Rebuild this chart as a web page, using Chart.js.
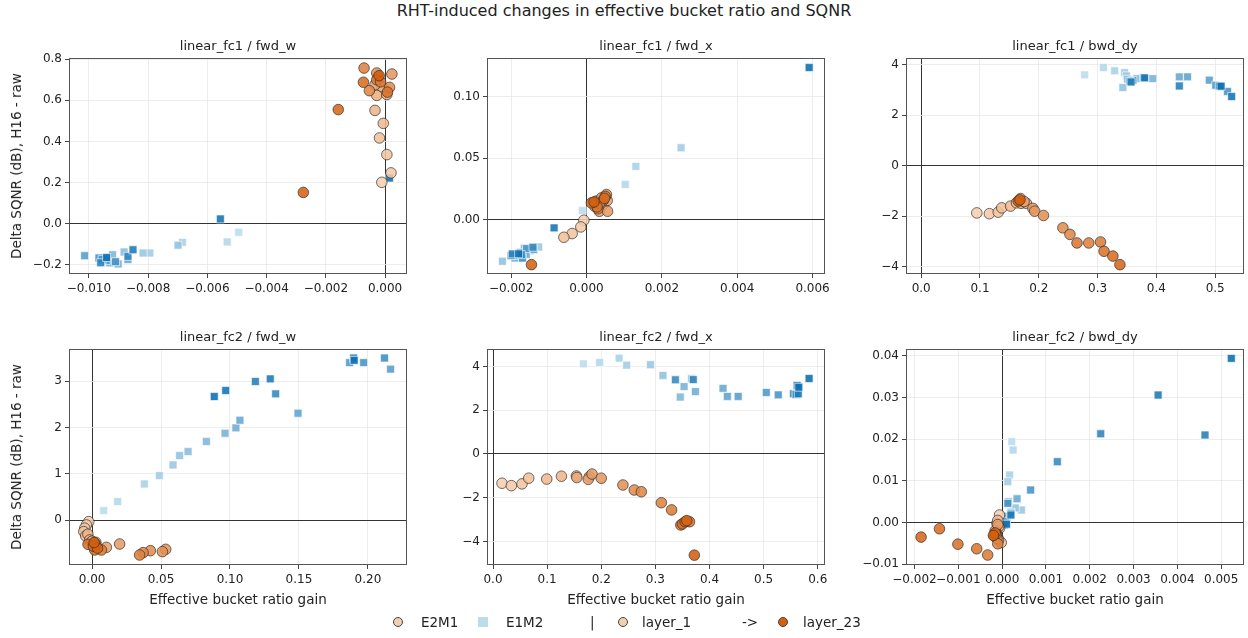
<!DOCTYPE html>
<html>
<head>
<meta charset="utf-8">
<script src="https://cdn.jsdelivr.net/npm/chart.js@4.4.0/dist/chart.umd.min.js"></script>
<style>
  body { margin: 0; width: 1248px; height: 638px; background: #fff; position: relative; overflow: hidden;
         font-family: "DejaVu Sans", sans-serif; color: #222; }
  canvas { position: absolute; }
  .txt { position: absolute; white-space: nowrap; transform: translate(-50%, -50%); }
  .ylab { transform: translate(-50%, -50%) rotate(-90deg); }
  #legend { position: absolute; left: 0; top: 613px; width: 1248px; height: 20px; font-size: 13.5px; }
  #legend span { position: absolute; top: 0; line-height: 18px; }
  .mk { width: 10px; height: 10px; top: 4px !important; box-sizing: border-box; }
</style>
</head>
<body>
<div class="txt" style="left:624px;top:10px;font-size:16px">RHT-induced changes in effective bucket ratio and SQNR</div>
<div id="panels"></div>
<div id="legend">
  <span class="mk" style="left:393px;border-radius:50%;background:#f3cfb0;border:1px solid #444"></span>
  <span style="left:421px">E2M1</span>
  <span class="mk" style="left:478px;background:#bcdcec"></span>
  <span style="left:506px">E1M2</span>
  <span style="left:590px">|</span>
  <span class="mk" style="left:618px;border-radius:50%;background:#f3cfb0;border:1px solid #444"></span>
  <span style="left:642px">layer_1</span>
  <span style="left:742px">-&gt;</span>
  <span class="mk" style="left:778px;border-radius:50%;background:#d45f0c;border:1px solid #444"></span>
  <span style="left:803px">layer_23</span>
</div>
<script>
// data, one array per panel and format, ordered layer_1 .. layer_23, each point [ratio gain, delta SQNR]
const fc1FwdW_E2M1 = [[-0.00011,0.201],[0.0002,0.247],[0.00006,0.336],[-0.00019,0.417],[-0.00006,0.488],[-0.00034,0.551],[-0.00028,0.624],[0.00006,0.628],[-0.00011,0.668],[-0.00034,0.676],[-0.00025,0.712],[0.00023,0.728],[-0.00028,0.733],[0.00015,0.663],[-0.00053,0.647],[-0.00071,0.757],[-0.00028,0.700],[-0.00015,0.690],[0.00008,0.640],[-0.00073,0.688],[-0.00158,0.555],[-0.00276,0.152],[-0.0002,0.720]];
const fc1FwdW_E1M2 = [[-0.00494,-0.042],[-0.00533,-0.089],[-0.00684,-0.091],[-0.00794,-0.143],[-0.00817,-0.143],[-0.00699,-0.105],[-0.00881,-0.138],[-0.0092,-0.151],[-0.00901,-0.196],[-0.0093,-0.191],[-0.00868,-0.175],[-0.0095,-0.17],[-0.01014,-0.156],[-0.00941,-0.18],[-0.00966,-0.167],[-0.0091,-0.185],[-0.00955,-0.175],[-0.00868,-0.159],[-0.0096,-0.19],[-0.00851,-0.127],[-0.00556,0.023],[0.00015,0.222],[-0.0094,-0.165]];

const fc1FwdX_E2M1 = [[-0.00007,-0.0003],[-0.00015,-0.0057],[-0.00038,-0.0111],[-0.0006,-0.0141],[0.00022,0.0111],[0.00034,0.012],[0.0004,0.0145],[0.00044,0.0125],[0.00055,0.0157],[0.00034,0.007],[0.00056,0.007],[0.00025,0.0152],[0.0004,0.0179],[0.00053,0.0206],[0.0003,0.009],[0.00045,0.016],[0.0005,0.019],[0.00035,0.0135],[0.00028,0.0105],[0.00013,0.0138],[0.00048,0.0175],[-0.00146,-0.0363],[0.0002,0.0145]];
const fc1FwdX_E1M2 = [[-0.00011,0.0076],[0.00103,0.0287],[0.00131,0.0434],[0.00251,0.0585],[-0.00127,-0.022],[-0.00223,-0.0336],[-0.0015,-0.025],[-0.00165,-0.023],[-0.0018,-0.03],[-0.0019,-0.031],[-0.0016,-0.028],[-0.00175,-0.0265],[-0.0014,-0.024],[-0.00185,-0.029],[-0.00159,-0.0233],[-0.0017,-0.031],[-0.002,-0.029],[-0.00142,-0.0222],[-0.00197,-0.0276],[-0.00173,-0.0282],[-0.00086,-0.0065],[0.00591,0.1236],[-0.0018,-0.0275]];

const fc1BwdDy_E2M1 = [[0.0946,-1.87],[0.116,-1.90],[0.131,-1.84],[0.137,-1.67],[0.152,-1.60],[0.162,-1.47],[0.169,-1.30],[0.170,-1.49],[0.179,-1.49],[0.175,-1.42],[0.190,-1.69],[0.193,-1.80],[0.208,-1.97],[0.241,-2.46],[0.253,-2.72],[0.285,-3.06],[0.305,-3.02],[0.265,-3.06],[0.311,-3.39],[0.326,-3.58],[0.338,-3.92],[0.165,-1.40],[0.168,-1.35]];
const fc1BwdDy_E1M2 = [[0.278,3.60],[0.310,3.89],[0.329,3.76],[0.346,3.69],[0.349,3.56],[0.343,3.10],[0.351,3.43],[0.367,3.45],[0.394,3.45],[0.378,3.49],[0.439,3.52],[0.453,3.52],[0.490,3.39],[0.501,3.19],[0.521,2.94],[0.360,3.38],[0.355,3.35],[0.507,3.16],[0.439,3.16],[0.357,3.32],[0.528,2.74],[0.380,3.48],[0.510,3.15]];

const fc2FwdW_E2M1 = [[-0.0024,-0.029],[-0.0041,-0.10],[-0.0053,-0.17],[-0.006,-0.245],[-0.0046,-0.338],[-0.003,-0.30],[-0.0017,-0.424],[0.0,-0.45],[0.0027,-0.475],[0.0104,-0.583],[0.020,-0.511],[0.0534,-0.626],[0.051,-0.676],[0.0423,-0.655],[0.037,-0.698],[0.0345,-0.748],[0.0068,-0.64],[0.0019,-0.64],[-0.0029,-0.518],[0.0027,-0.52],[0.001,-0.56],[0.004,-0.60],[0.0015,-0.48]];
const fc2FwdW_E1M2 = [[0.00845,0.209],[0.0186,0.403],[0.0379,0.784],[0.0488,0.964],[0.0587,1.194],[0.0635,1.396],[0.0696,1.482],[0.0829,1.698],[0.0964,1.878],[0.1043,1.993],[0.1072,2.158],[0.1493,2.309],[0.2164,3.26],[0.1867,3.40],[0.1969,3.40],[0.212,3.50],[0.1331,2.727],[0.1896,3.50],[0.1184,2.993],[0.1292,3.05],[0.0969,2.799],[0.0886,2.669],[0.190,3.45]];

const fc2FwdX_E2M1 = [[0.0166,-1.34],[0.0339,-1.45],[0.0536,-1.37],[0.066,-1.11],[0.0993,-1.15],[0.1264,-1.02],[0.154,-1.01],[0.155,-1.08],[0.178,-1.04],[0.176,-1.16],[0.183,-0.92],[0.200,-1.11],[0.240,-1.42],[0.261,-1.65],[0.274,-1.73],[0.311,-2.23],[0.330,-2.56],[0.347,-3.25],[0.363,-3.10],[0.350,-3.20],[0.355,-3.10],[0.358,-3.05],[0.372,-4.63]];
const fc2FwdX_E1M2 = [[0.167,4.12],[0.197,4.18],[0.233,4.38],[0.247,4.06],[0.291,4.08],[0.314,3.59],[0.367,3.44],[0.346,2.60],[0.353,3.08],[0.374,2.85],[0.425,3.0],[0.433,2.63],[0.453,2.63],[0.505,2.81],[0.527,2.70],[0.555,2.75],[0.337,3.39],[0.370,3.40],[0.560,2.72],[0.562,3.13],[0.564,2.75],[0.584,3.45],[0.565,3.05]];

const fc2BwdDy_E2M1 = [[-0.00006,0.0018],[-0.00012,-0.0002],[-0.00006,-0.0014],[-0.00002,-0.0048],[-0.0001,0.0005],[-0.00008,-0.001],[-0.00014,-0.0024],[-0.0001,-0.0035],[-0.00012,-0.003],[-0.00016,-0.002],[-0.0001,-0.0005],[-0.00008,-0.0042],[-0.00012,-0.0038],[-0.00018,-0.0032],[-0.00014,-0.0028],[-0.0001,-0.0051],[-0.00033,-0.0078],[-0.00058,-0.0063],[-0.00101,-0.0052],[-0.00143,-0.0015],[-0.00185,-0.0035],[-0.00016,-0.0025],[-0.0002,-0.0031]];
const fc2BwdDy_E1M2 = [[0.00022,0.0194],[0.00025,0.0174],[0.00017,0.0114],[0.00013,0.0098],[0.00044,0.003],[0.0003,0.0035],[0.00015,0.005],[0.0002,0.0025],[0.00005,0.0008],[0.00012,0.0015],[0.00034,0.0057],[0.0002,0.0022],[0.00008,0.0003],[0.00005,-0.0006],[0.00065,0.0078],[0.00013,0.0046],[0.00126,0.0146],[0.00225,0.0213],[0.00463,0.021],[0.00356,0.0306],[0.0002,0.0018],[0.00523,0.0394],[0.0001,-0.0004]];

// tick values
const ticksFc1FwdWX = [-0.010, -0.008, -0.006, -0.004, -0.002, 0.000];
const ticksFc1FwdWY = [-0.2, 0.0, 0.2, 0.4, 0.6, 0.8];
const ticksFc1FwdXX = [-0.002, 0.000, 0.002, 0.004, 0.006];
const ticksFc1FwdXY = [0.00, 0.05, 0.10];
const ticksFc1BwdDyX = [0.0, 0.1, 0.2, 0.3, 0.4, 0.5];
const ticksFc1BwdDyY = [-4, -2, 0, 2, 4];
const ticksFc2FwdWX = [0.00, 0.05, 0.10, 0.15, 0.20];
const ticksFc2FwdWY = [0, 1, 2, 3];
const ticksFc2FwdXX = [0.0, 0.1, 0.2, 0.3, 0.4, 0.5, 0.6];
const ticksFc2FwdXY = [-4, -2, 0, 2, 4];
const ticksFc2BwdDyX = [-0.002, -0.001, 0.000, 0.001, 0.002, 0.003, 0.004, 0.005];
const ticksFc2BwdDyY = [-0.01, 0.00, 0.01, 0.02, 0.03, 0.04];

const panels = [
  { title: 'linear_fc1 / fwd_w', e2m1: fc1FwdW_E2M1, e1m2: fc1FwdW_E1M2, xt: ticksFc1FwdWX, yt: ticksFc1FwdWY, xd: 3, yd: 1,
    x: [-0.01067, 0.00074], y: [-0.245, 0.805], L: 69, T: 58 },
  { title: 'linear_fc1 / fwd_x', e2m1: fc1FwdX_E2M1, e1m2: fc1FwdX_E1M2, xt: ticksFc1FwdXX, yt: ticksFc1FwdXY, xd: 3, yd: 2,
    x: [-0.00264, 0.00633], y: [-0.0439, 0.1312], L: 487, T: 58 },
  { title: 'linear_fc1 / bwd_dy', e2m1: fc1BwdDy_E2M1, e1m2: fc1BwdDy_E1M2, xt: ticksFc1BwdDyX, yt: ticksFc1BwdDyY, xd: 1, yd: 0,
    x: [-0.0258, 0.549], y: [-4.29, 4.26], L: 906, T: 58 },
  { title: 'linear_fc2 / fwd_w', e2m1: fc2FwdW_E2M1, e1m2: fc2FwdW_E1M2, xt: ticksFc2FwdWX, yt: ticksFc2FwdWY, xd: 2, yd: 0,
    x: [-0.0167, 0.2283], y: [-0.964, 3.69], L: 69, T: 349 },
  { title: 'linear_fc2 / fwd_x', e2m1: fc2FwdX_E2M1, e1m2: fc2FwdX_E1M2, xt: ticksFc2FwdXX, yt: ticksFc2FwdXY, xd: 1, yd: 0,
    x: [-0.0111, 0.6134], y: [-5.08, 4.79], L: 487, T: 349 },
  { title: 'linear_fc2 / bwd_dy', e2m1: fc2BwdDy_E2M1, e1m2: fc2BwdDy_E1M2, xt: ticksFc2BwdDyX, yt: ticksFc2BwdDyY, xd: 3, yd: 2,
    x: [-0.002194, 0.00552], y: [-0.0102, 0.0416], L: 906, T: 349 },
];

const W = 338, H = 216;          // frame size of each subplot
const AXW = 60, PADT = 10, PADR = 20, AXH = 30;

const orangeA = [246, 207, 175], orangeB = [212, 94, 12];
const blueA = [190, 221, 237], blueB = [14, 112, 178];
function layerColors(a, b, n, alpha) {
  const out = [];
  for (let i = 0; i < n; i++) {
    const t = n > 1 ? i / (n - 1) : 0;
    const c = a.map((v, k) => Math.round(v + (b[k] - v) * t));
    out.push('rgba(' + c.join(',') + ',' + alpha + ')');
  }
  return out;
}
function fmt(v, d) {
  const s = Math.abs(v) < 1e-12 ? (0).toFixed(d) : v.toFixed(d);
  return s.replace('-', '\u2212');
}

// box round the plot area, like the matplotlib spines
const framePlugin = {
  id: 'frame',
  afterDatasetsDraw(chart) {
    const a = chart.chartArea, ctx = chart.ctx;
    ctx.save();
    ctx.strokeStyle = '#555';
    ctx.lineWidth = 1;
    ctx.strokeRect(Math.round(a.left) + 0.5, Math.round(a.top) + 0.5, Math.round(a.right - a.left) - 1, Math.round(a.bottom - a.top) - 1);
    ctx.restore();
  }
};

Chart.defaults.font.family = '"DejaVu Sans", sans-serif';
Chart.defaults.font.size = 12;
Chart.defaults.color = '#222';

const holder = document.getElementById('panels');
panels.forEach((p, idx) => {
  const cv = document.createElement('canvas');
  cv.width = W + AXW + PADR;
  cv.height = H + PADT + AXH;
  cv.style.left = (p.L - AXW) + 'px';
  cv.style.top = (p.T - PADT) + 'px';
  holder.appendChild(cv);

  const t = document.createElement('div');
  t.className = 'txt';
  t.style.cssText = 'left:' + (p.L + W / 2) + 'px;top:' + (p.T - 13) + 'px;font-size:13px';
  t.textContent = p.title;
  holder.appendChild(t);

  if (idx % 3 === 0) {
    const yl = document.createElement('div');
    yl.className = 'txt ylab';
    yl.style.cssText = 'left:16px;top:' + (p.T + H / 2) + 'px;font-size:13.5px';
    yl.textContent = 'Delta SQNR (dB), H16 - raw';
    holder.appendChild(yl);
  }
  if (idx >= 3) {
    const xl = document.createElement('div');
    xl.className = 'txt';
    xl.style.cssText = 'left:' + (p.L + W / 2) + 'px;top:599px;font-size:13.5px';
    xl.textContent = 'Effective bucket ratio gain';
    holder.appendChild(xl);
  }

  const gridCol = ctx => (ctx.tick && Math.abs(ctx.tick.value) < 1e-12) ? '#333' : '#e8e8e8';
  const gridW = ctx => (ctx.tick && Math.abs(ctx.tick.value) < 1e-12) ? 1 : 0.8;

  new Chart(cv, {
    type: 'scatter',
    data: {
      datasets: [
        {
          label: 'E2M1',
          data: p.e2m1.map(d => ({ x: d[0], y: d[1] })),
          pointStyle: 'circle',
          pointRadius: 5.3,
          pointBackgroundColor: layerColors(orangeA, orangeB, p.e2m1.length, 0.88),
          pointBorderColor: 'rgba(45,45,45,0.85)',
          pointBorderWidth: 0.8
        },
        {
          label: 'E1M2',
          data: p.e1m2.map(d => ({ x: d[0], y: d[1] })),
          pointStyle: 'rect',
          pointRadius: 5.6,
          pointBackgroundColor: layerColors(blueA, blueB, p.e1m2.length, 0.92),
          pointBorderColor: 'rgba(255,255,255,0.9)',
          pointBorderWidth: 0.7
        }
      ]
    },
    options: {
      responsive: false,
      animation: false,
      events: [],
      layout: { padding: { top: PADT, right: PADR, left: 0, bottom: 0 } },
      plugins: { legend: { display: false }, tooltip: { enabled: false } },
      scales: {
        x: {
          type: 'linear', min: p.x[0], max: p.x[1],
          afterBuildTicks: s => { s.ticks = p.xt.map(v => ({ value: v })); },
          afterFit: s => { s.height = AXH; },
          ticks: { autoSkip: false, maxRotation: 0, padding: 4, callback: v => fmt(v, p.xd) },
          grid: { color: gridCol, lineWidth: gridW, tickLength: 4, tickColor: '#444', tickWidth: 1 },
          border: { display: false }
        },
        y: {
          type: 'linear', min: p.y[0], max: p.y[1],
          afterBuildTicks: s => { s.ticks = p.yt.map(v => ({ value: v })); },
          afterFit: s => { s.width = AXW; },
          ticks: { autoSkip: false, padding: 3, callback: v => fmt(v, p.yd) },
          grid: { color: gridCol, lineWidth: gridW, tickLength: 4, tickColor: '#444', tickWidth: 1 },
          border: { display: false }
        }
      }
    },
    plugins: [framePlugin]
  });
});
</script>
</body>
</html>
